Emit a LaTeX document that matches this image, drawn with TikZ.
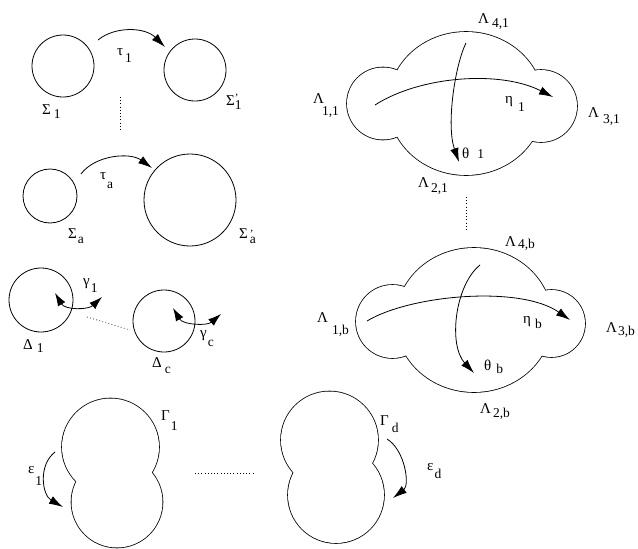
\documentclass[tikz,border=0pt]{standalone}
\usepackage{fontspec}
\setmainfont{Liberation Serif}
\usetikzlibrary{arrows.meta}
\newcommand\subf{\fontsize{13.5}{15}\selectfont}
\newcommand\glab[4]{#1\hspace{#2pt}\raisebox{-#3pt}{\subf #4}}
\newcommand\gplab[4]{#1\hspace{#2pt}\raisebox{-#3pt}{\subf\shortstack[l]{\fontsize{11}{11}\selectfont '\\[-4pt]#4}}}
\begin{document}
\begin{tikzpicture}[x=1pt,y=-1pt,
  circ/.style={draw,circle,inner sep=0pt,line width=0.8pt},
  lab/.style={inner sep=0pt,anchor=base west,font=\fontsize{15}{17}\selectfont},
  arr/.style={-{Latex[length=14pt,width=8.5pt]},line width=0.8pt},
  darr/.style={{Latex[length=13pt,width=8.5pt]}-{Latex[length=13pt,width=8.5pt]},line width=0.8pt},
  dots/.style={line width=0.6pt,dash pattern=on 0.8pt off 2.4pt}]
\useasboundingbox (0,0) rectangle (638,549);

% simple circles
\node[circ,minimum size=62pt] (S1) at (63,66) {};
\node[circ,minimum size=62pt] (S1p) at (195,70) {};
\node[circ,minimum size=54pt] (Sa) at (50,196) {};
\node[circ,minimum size=92pt] (Sap) at (190,200) {};
\node[circ,minimum size=64pt] (D1) at (41,300) {};
\node[circ,minimum size=62pt] (Dc) at (164,321) {};

% dumbbells (union outline)
\draw[line width=1.6pt] (110.5,447) circle[radius=48.5pt] (117,502) circle[radius=45.5pt];
\fill[white] (110.5,447) circle[radius=48.5pt] (117,502) circle[radius=45.5pt];
\draw[line width=1.6pt] (329.5,440) circle[radius=48.5pt] (336,495) circle[radius=48pt];
\fill[white] (329.5,440) circle[radius=48.5pt] (336,495) circle[radius=48pt];

% clouds (union outline)
\draw[line width=1.6pt] (466,103.5) ellipse[x radius=77.5pt,y radius=71.5pt]
  (383,103.5) circle[radius=36pt] (541,106) circle[radius=36pt];
\fill[white] (466,103.5) ellipse[x radius=77.5pt,y radius=71.5pt]
  (383,103.5) circle[radius=36pt] (541,106) circle[radius=36pt];
\draw[line width=1.6pt] (474,320) ellipse[x radius=78pt,y radius=72pt]
  (392.5,321.5) circle[radius=36.5pt] (551.5,323.5) circle[radius=33.5pt];
\fill[white] (474,320) ellipse[x radius=78pt,y radius=72pt]
  (392.5,321.5) circle[radius=36.5pt] (551.5,323.5) circle[radius=33.5pt];

% arrow end points
\coordinate (t1s) at (98,40);   \coordinate (t1e) at (165,47);
\coordinate (tas) at (81,174);  \coordinate (tae) at (152,168);
\coordinate (g1s) at (55,293);  \coordinate (g1e) at (102,297);
\coordinate (gcs) at (173,308); \coordinate (gce) at (221,314);
\coordinate (e1s) at (55,452);  \coordinate (e1e) at (63,507);
\coordinate (eds) at (387,439); \coordinate (ede) at (393,498);
\coordinate (h1s) at (375,105); \coordinate (h1e) at (553,97);
\coordinate (th1s) at (466,43); \coordinate (th1e) at (459,162);
\coordinate (hbs) at (367,321); \coordinate (hbe) at (570,320);
\coordinate (thbs) at (480,265);\coordinate (thbe) at (474,373);

% arrows
\draw[arr] (t1s) .. controls (115,26) and (145,27) .. (t1e);
\draw[arr] (tas) .. controls (95,155) and (130,152) .. (tae);
\draw[darr] (g1s) .. controls (65,310) and (88,310) .. (g1e);
\draw[darr] (gcs) .. controls (183,325) and (207,326) .. (gce);
\draw[arr] (e1s) .. controls (38,465) and (42,495) .. (e1e);
\draw[arr] (eds) .. controls (405,450) and (410,485) .. (ede);
\draw[arr] (h1s) .. controls (420,76) and (500,70) .. (h1e);
\draw[arr] (th1s) .. controls (455,65) and (446,125) .. (th1e);
\draw[arr] (hbs) .. controls (410,295) and (520,285) .. (hbe);
\draw[arr] (thbs) .. controls (455,285) and (448,345) .. (thbe);

% dotted lines
\coordinate (d1a) at (120,97);  \coordinate (d1b) at (120,132);
\coordinate (d2a) at (87,317);  \coordinate (d2b) at (130,330);
\coordinate (d3a) at (195,473); \coordinate (d3b) at (255,473);
\coordinate (d4a) at (466,197); \coordinate (d4b) at (466,231);
\draw[dots] (d1a) -- (d1b);
\draw[dots] (d2a) -- (d2b);
\draw[dots] (d3a) -- (d3b);
\draw[dots] (d4a) -- (d4b);

% labels
\node[lab] (lS1) at (42,114) {\glab{Σ}{3}{4}{1}};
\node[lab] (lS1p) at (226,105) {\gplab{Σ}{0}{4}{1}};
\node[lab] (lt1) at (117,55) {\glab{τ}{2}{7}{1}};
\node[lab] (lta) at (100,179) {\glab{τ}{1}{9}{a}};
\node[lab] (lSa) at (68,238) {\glab{Σ}{1}{5}{a}};
\node[lab] (lSap) at (239,238) {\gplab{Σ}{2}{5}{a}};
\node[lab] (lD1) at (23,349) {\glab{Δ}{4}{3}{1}};
\node[lab] (lg1) at (83,285) {\glab{γ}{1}{7}{1}};
\node[lab] (lgc) at (200,337) {\glab{γ}{1}{9}{c}};
\node[lab] (lDc) at (152,367) {\glab{Δ}{3}{6}{c}};
\node[lab] (lG1) at (161,420) {\glab{Γ}{1}{10}{1}};
\node[lab] (lGd) at (380,425) {\glab{Γ}{3}{7}{d}};
\node[lab] (le1) at (28,473) {\glab{ε}{1}{12}{1}};
\node[lab] (led) at (427,470) {\glab{ε}{1}{8}{d}};

\node[lab] (L41) at (478,23) {\glab{Λ}{3}{4}{4,1}};
\node[lab] (L11) at (313,103) {\glab{Λ}{-2}{12}{1,1}};
\node[lab] (L31) at (588,117) {\glab{Λ}{4}{6}{3,1}};
\node[lab] (L21) at (418,187) {\glab{Λ}{2}{5}{2,1}};
\node[lab] (th1) at (462,158) {\glab{θ}{8}{0}{1}};
\node[lab] (h1) at (505,103) {\glab{η}{5}{8}{1}};

\node[lab] (L4b) at (505,246) {\glab{Λ}{2}{2}{4,b}};
\node[lab] (L1b) at (317,322) {\glab{Λ}{4}{12}{1,b}};
\node[lab] (L3b) at (606,332) {\glab{Λ}{1}{3}{3,b}};
\node[lab] (L2b) at (480,413) {\glab{Λ}{2}{4}{2,b}};
\node[lab] (hb) at (523,323) {\glab{η}{4}{5}{b}};
\node[lab] (thb) at (484,370) {\glab{θ}{5}{3}{b}};
\end{tikzpicture}
\end{document}
